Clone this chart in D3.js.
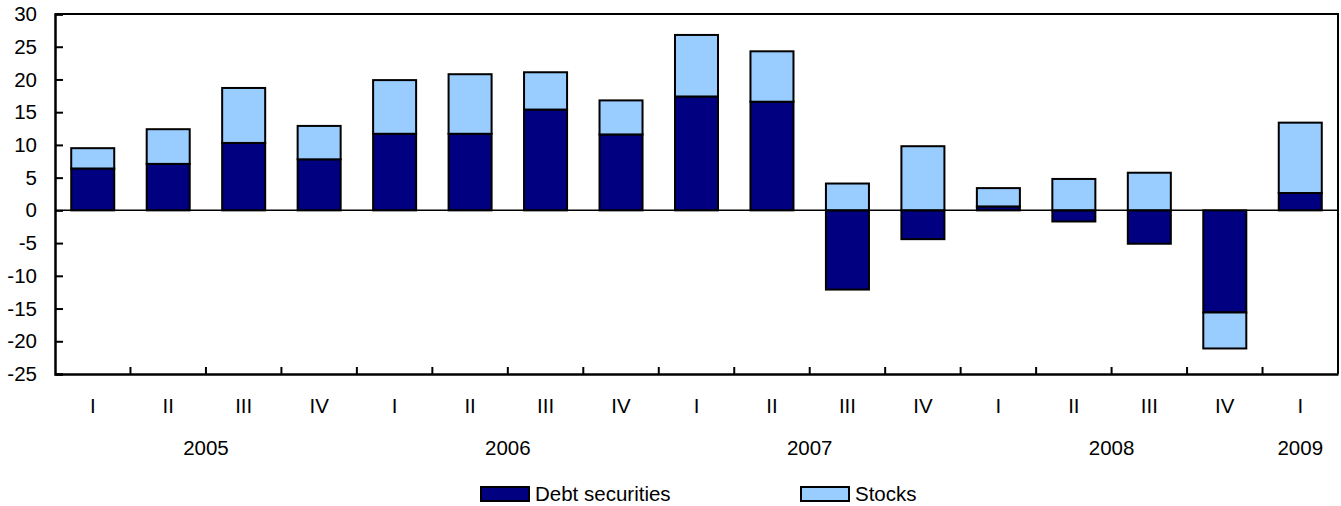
<!DOCTYPE html>
<html>
<head>
<meta charset="utf-8">
<script src="https://cdn.jsdelivr.net/npm/d3@7"></script>
<style>
  html, body { margin: 0; padding: 0; background: #fff; }
  svg { display: block; font-family: "Liberation Sans", Arial, Helvetica, sans-serif; }
</style>
</head>
<body>
<svg id="chart" width="1341" height="506"></svg>
<script>
// ---- Data ----
const quarters = ["I","II","III","IV","I","II","III","IV","I","II","III","IV","I","II","III","IV","I"];
const years = ["2005","2005","2005","2005","2006","2006","2006","2006","2007","2007","2007","2007","2008","2008","2008","2008","2009"];
const debtSecurities = [6.4, 7.1, 10.3, 7.8, 11.7, 11.7, 15.4, 11.6, 17.4, 16.6, -12.1, -4.4, 0.6, -1.7, -5.1, -15.6, 2.65];
const stocks = [3.1, 5.3, 8.4, 5.1, 8.2, 9.1, 5.7, 5.2, 9.4, 7.7, 4.1, 9.8, 2.8, 4.8, 5.75, -5.5, 10.75];
const seriesNames = ["Debt securities", "Stocks"];
const seriesColors = ["#000080", "#99CCFF"];
const yTicks = [-25, -20, -15, -10, -5, 0, 5, 10, 15, 20, 25, 30];

// ---- Layout ----
const svg = d3.select("#chart");
const mLeft = 55, mRight = 1338, mTop = 14, mBottom = 374;
const fontSize = 20.5;

const idx = d3.range(quarters.length);
const x = d3.scaleBand().domain(idx).range([mLeft, mRight]).paddingInner(0.43).paddingOuter(0.215);
const xBand = d3.scaleBand().domain(idx).range([mLeft, mRight]);
const y = d3.scaleLinear().domain([-25, 30]).range([mBottom, mTop]);

const rows = idx.map(i => ({ i, debt: debtSecurities[i], stocks: stocks[i] }));
const stack = d3.stack().keys(["debt", "stocks"]).offset(d3.stackOffsetDiverging);
const stacked = stack(rows);

// bars
stacked.forEach((layer, li) => {
  svg.append("g")
    .selectAll("rect")
    .data(layer)
    .join("rect")
    .attr("x", d => x(d.data.i))
    .attr("width", x.bandwidth())
    .attr("y", d => y(Math.max(d[0], d[1])))
    .attr("height", d => Math.abs(y(d[0]) - y(d[1])))
    .attr("fill", seriesColors[li])
    .attr("stroke", "#000")
    .attr("stroke-width", 2);
});

// zero line
svg.append("line")
  .attr("x1", mLeft).attr("x2", mRight)
  .attr("y1", y(0)).attr("y2", y(0))
  .attr("stroke", "#000").attr("stroke-width", 1.5);

// frame (top, right)
svg.append("path")
  .attr("d", `M${mLeft},${mTop}H${mRight}V${mBottom}`)
  .attr("fill", "none").attr("stroke", "#000").attr("stroke-width", 2);

// y axis
const yAxis = d3.axisLeft(y).tickValues(yTicks).tickSize(-8).tickPadding(18).tickFormat(d => String(d));
const gy = svg.append("g").attr("transform", `translate(${mLeft},0)`).call(yAxis);
gy.select(".domain").attr("stroke-width", 2.5);
gy.selectAll(".tick line").attr("stroke-width", 2);
gy.selectAll(".tick text").attr("font-size", fontSize).attr("fill", "#000").attr("font-family", null);

// x axis (at bottom, -25)
const xAxis = d3.axisBottom(xBand).tickSize(0).tickFormat(i => quarters[i]).tickPadding(24);
const gx = svg.append("g").attr("transform", `translate(0,${mBottom})`).call(xAxis);
gx.select(".domain").attr("stroke-width", 2.5);
gx.selectAll(".tick text").attr("font-size", fontSize).attr("fill", "#000").attr("font-family", null);
// tick marks between bands
svg.append("g").selectAll("line")
  .data(d3.range(1, quarters.length))
  .join("line")
  .attr("x1", i => xBand(i)).attr("x2", i => xBand(i))
  .attr("y1", mBottom).attr("y2", mBottom - 7)
  .attr("stroke", "#000").attr("stroke-width", 2);

// year labels
const yearGroups = d3.groups(idx, i => years[i]);
svg.append("g").selectAll("text")
  .data(yearGroups)
  .join("text")
  .attr("x", d => d3.mean(d[1], i => xBand(i) + xBand.bandwidth() / 2))
  .attr("y", 448)
  .attr("dy", "0.35em")
  .attr("text-anchor", "middle")
  .attr("font-size", fontSize)
  .text(d => d[0]);

// legend
const legendX = [481, 801];
const lg = svg.append("g");
seriesNames.forEach((name, k) => {
  lg.append("rect")
    .attr("x", legendX[k]).attr("y", 487)
    .attr("width", 48).attr("height", 14)
    .attr("fill", seriesColors[k]).attr("stroke", "#000").attr("stroke-width", 2);
  lg.append("text")
    .attr("x", legendX[k] + 54).attr("y", 494)
    .attr("dy", "0.35em")
    .attr("font-size", fontSize)
    .text(name);
});
</script>
</body>
</html>
